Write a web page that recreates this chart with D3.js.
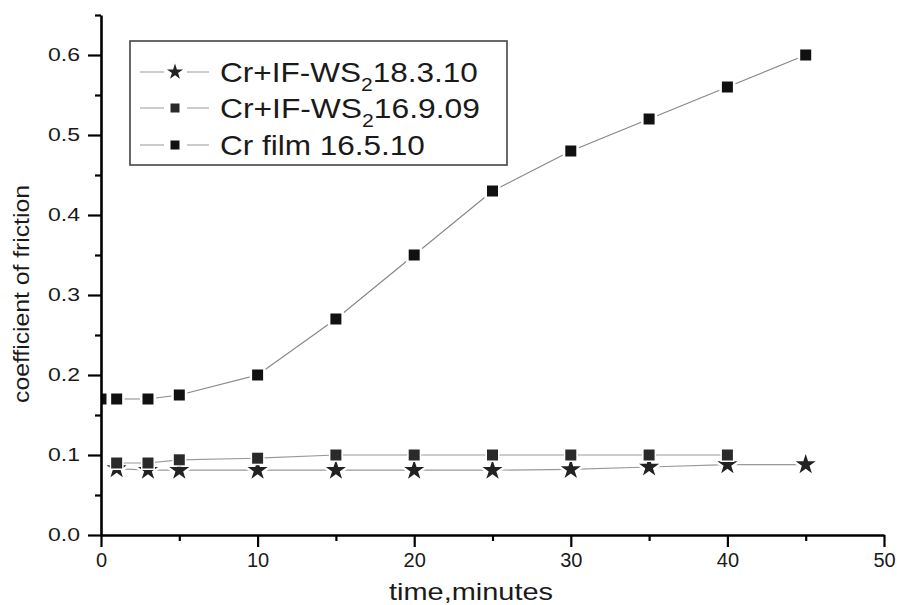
<!DOCTYPE html>
<html><head><meta charset="utf-8">
<script src="https://cdn.jsdelivr.net/npm/d3@7"></script>
<style>body{margin:0;background:#fff}svg{display:block}text{font-family:"Liberation Sans",Arial,sans-serif;fill:#1a1a1a}</style>
</head><body>
<svg id="chart" width="898" height="605"></svg>
<script>
// ---- data ----
const xTicks = [0, 10, 20, 30, 40, 50];
const xMinorTicks = [5, 15, 25, 35, 45];
const yTicks = [0.0, 0.1, 0.2, 0.3, 0.4, 0.5, 0.6];
const yMinorTicks = [0.05, 0.15, 0.25, 0.35, 0.45, 0.55, 0.65];
const timeStar = [1, 3, 5, 10, 15, 20, 25, 30, 35, 40, 45];
const cofStar  = [0.083, 0.081, 0.081, 0.081, 0.081, 0.081, 0.081, 0.082, 0.085, 0.088, 0.088];
const timeSq   = [1, 3, 5, 10, 15, 20, 25, 30, 35, 40];
const cofSq    = [0.090, 0.090, 0.094, 0.096, 0.100, 0.100, 0.100, 0.100, 0.100, 0.100];
const timeCr   = [0, 1, 3, 5, 10, 15, 20, 25, 30, 35, 40, 45];
const cofCr    = [0.170, 0.170, 0.170, 0.175, 0.200, 0.270, 0.350, 0.430, 0.480, 0.520, 0.560, 0.600];
const legendLabels = [
  ["Cr+IF-WS", "2", "18.3.10"],
  ["Cr+IF-WS", "2", "16.9.09"],
  ["Cr film 16.5.10", "", ""]
];
const xTitle = "time,minutes";
const yTitle = "coefficient of friction";

// ---- layout ----
const svg = d3.select("#chart");
const x = d3.scaleLinear().domain([0, 50]).range([101, 884]);
const y = d3.scaleLinear().domain([0, 0.65]).range([535, 15]);

function fit(sel, target) {
  const w = sel.node().getBBox().width;
  const x0 = +sel.attr("x") || 0, y0 = +sel.attr("y") || 0;
  const rot = sel.attr("data-rot") || 0;
  sel.attr("x", 0).attr("y", 0)
     .attr("transform", `translate(${x0},${y0}) rotate(${rot}) scale(${target / w},1)`);
}

svg.append("defs").append("clipPath").attr("id", "plotclip")
  .append("rect").attr("x", 101).attr("y", 0).attr("width", 797).attr("height", 535);

const series = {
  star: {t: timeStar, v: cofStar, sym: d3.symbolStar, size: 125, fill: "#222", line: "#999"},
  sq:   {t: timeSq, v: cofSq, sym: d3.symbolSquare, size: 121, fill: "#2a2a2a", line: "#999"},
  cr:   {t: timeCr, v: cofCr, sym: d3.symbolSquare, size: 121, fill: "#111", line: "#888"}
};

const plot = svg.append("g").attr("clip-path", "url(#plotclip)");
["star", "sq", "cr"].forEach(k => {
  const s = series[k];
  const pts = s.t.map((t, i) => [t, s.v[i]]);
  plot.append("path").datum(pts)
    .attr("fill", "none").attr("stroke", s.line).attr("stroke-width", 1.2)
    .attr("d", d3.line().x(d => x(d[0])).y(d => y(d[1])));
  plot.selectAll(null).data(pts).enter().append("path")
    .attr("transform", d => `translate(${x(d[0])},${y(d[1])})`)
    .attr("d", d3.symbol().type(s.sym).size(s.size))
    .attr("fill", s.fill).attr("stroke", "#fff").attr("stroke-width", k === "sq" ? 3 : 5)
    .style("paint-order", "stroke");
});

// ---- axes ----
const xAxis = svg.append("g").attr("transform", "translate(0,535)")
  .call(d3.axisBottom(x).tickValues(xTicks).tickSize(12).tickSizeOuter(0).tickPadding(6).tickFormat(d3.format("d")));
svg.append("g").attr("transform", "translate(0,535)")
  .call(d3.axisBottom(x).tickValues(xMinorTicks).tickSize(6).tickSizeOuter(0).tickFormat(""))
  .select(".domain").remove();
const yAxis = svg.append("g").attr("transform", "translate(101,0)")
  .call(d3.axisLeft(y).tickValues(yTicks).tickSize(13).tickSizeOuter(0).tickPadding(8).tickFormat(d3.format(".1f")));
svg.append("g").attr("transform", "translate(101,0)")
  .call(d3.axisLeft(y).tickValues(yMinorTicks).tickSize(6).tickSizeOuter(0).tickFormat(""))
  .select(".domain").remove();

svg.selectAll(".domain").attr("stroke", "#000").attr("stroke-width", 2.6);
svg.selectAll(".tick line").attr("stroke", "#000").attr("stroke-width", 2.2);
xAxis.selectAll(".tick text").style("font-size", "20px").style("font-family", "Liberation Sans, Arial, sans-serif").attr("fill", "#1a1a1a");
yAxis.selectAll(".tick text").style("font-size", "18px").style("font-family", "Liberation Sans, Arial, sans-serif").attr("fill", "#1a1a1a")
  .each(function() {
    const t = d3.select(this);
    const xx = +t.attr("x");
    t.attr("transform", `translate(${xx},0) scale(1.28,1) translate(${-xx},0)`);
  });

// ---- titles ----
const xt = svg.append("text").attr("x", 471).attr("y", 600).attr("text-anchor", "middle")
  .style("font-size", "24px").text(xTitle);
fit(xt, 164);
const yt = svg.append("text").attr("x", 29).attr("y", 294).attr("data-rot", -90).attr("text-anchor", "middle")
  .style("font-size", "22px").text(yTitle);
fit(yt, 218);

// ---- legend ----
const lg = svg.append("g");
lg.append("rect").attr("x", 130).attr("y", 41).attr("width", 377).attr("height", 124)
  .attr("fill", "#fff").attr("stroke", "#444").attr("stroke-width", 1.6);
const rowsY = [72, 108, 145];
const legendTargets = [258, 260, 205];
const legendKeys = ["star", "sq", "cr"];
legendLabels.forEach((lab, i) => {
  const s = series[legendKeys[i]];
  const ry = rowsY[i];
  lg.append("line").attr("x1", 140).attr("x2", 164).attr("y1", ry).attr("y2", ry).attr("stroke", "#aaa").attr("stroke-width", 1.2);
  lg.append("line").attr("x1", 187).attr("x2", 209).attr("y1", ry).attr("y2", ry).attr("stroke", "#aaa").attr("stroke-width", 1.2);
  lg.append("path").attr("transform", `translate(175,${ry})`)
    .attr("d", d3.symbol().type(s.sym).size(s.sym === d3.symbolStar ? 80 : 81)).attr("fill", s.fill);
  const t = lg.append("text").attr("x", 220).attr("y", ry + 10).style("font-size", "27px");
  t.append("tspan").text(lab[0]);
  if (lab[1]) {
    t.append("tspan").attr("dy", 9).style("font-size", "18px").text(lab[1]);
    t.append("tspan").attr("dy", -9).text(lab[2]);
  }
  fit(t, legendTargets[i]);
});
</script>
</body></html>
